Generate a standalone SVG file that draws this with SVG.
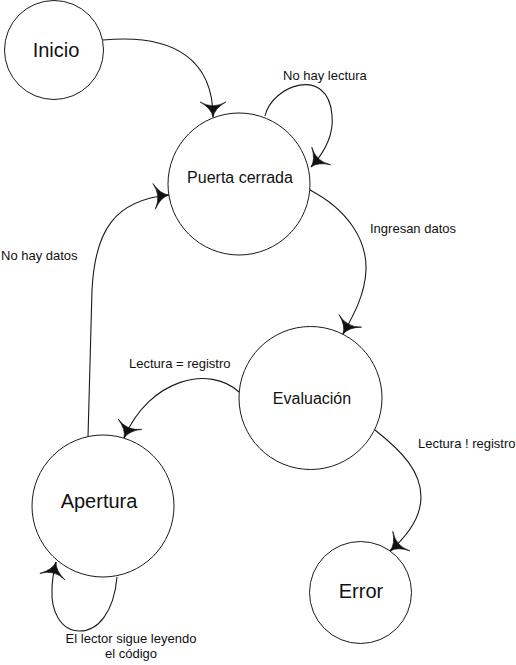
<svg xmlns="http://www.w3.org/2000/svg" width="516" height="665" viewBox="0 0 516 665">
  <style>
    .node circle { fill: #ffffff; stroke: #1a1a1a; stroke-width: 1; }
    .node text { font-family: "Liberation Sans", Arial, sans-serif; fill: #111111; text-anchor: middle; }
    .big { font-size: 20px; }
    .mid { font-size: 16px; }
    .edge { fill: none; stroke: #1a1a1a; stroke-width: 1.1; marker-end: url(#arr); }
    .lbl { font-family: "Liberation Sans", Arial, sans-serif; font-size: 13px; fill: #111111; }
  </style>
  <defs>
    <marker id="arr" markerUnits="userSpaceOnUse" markerWidth="30" markerHeight="30" viewBox="-16 -14 18 28" refX="0" refY="0" orient="auto" overflow="visible">
      <path d="M0,0 Q-8,-1.5 -14,-12 Q-7,0 -14,12 Q-8,1.5 0,0 Z" fill="#111111" stroke="#111111" stroke-width="0.6"/>
    </marker>
  </defs>
  <rect width="516" height="665" fill="#ffffff"/>

  <g id="connectors">
    <path class="edge" d="M103,40 C 178,33 213,63 213,117"/>
    <path class="edge" d="M265,116 C 272,85 328,65 332,115 C 334,135 324,153 311,167"/>
    <path class="edge" d="M310,190 C 348,210 367,240 366,270 C 365,295 353,316 343,334"/>
    <path class="edge" d="M239,392 C 210,365 150,378 124,438"/>
    <path class="edge" d="M375,430 C 403,452 421,472 421,497 C 421,518 406,537 390,551"/>
    <path class="edge" d="M88,437 L92,290 C 95,230 115,200 169,195"/>
    <path class="edge" d="M117,577 C 114,612 98,631 80,631 C 60,631 51,610 52,590 C 52,578 54,570 56,562"/>
    <text class="lbl" x="283" y="80">No hay lectura</text>
    <text class="lbl" x="370" y="233">Ingresan datos</text>
    <text class="lbl" x="1" y="260">No hay datos</text>
    <text class="lbl" x="129" y="368">Lectura = registro</text>
    <text class="lbl" x="418" y="448">Lectura ! registro</text>
    <text class="lbl" x="131" y="643" text-anchor="middle">El lector sigue leyendo</text>
    <text class="lbl" x="131" y="658" text-anchor="middle">el código</text>
  </g>

  <g id="inicio" class="node">
    <circle cx="54" cy="50" r="49.5"/>
    <text class="big" x="56" y="57">Inicio</text>
  </g>
  <g id="puerta-cerrada" class="node">
    <circle cx="239" cy="184" r="71"/>
    <text class="mid" x="240" y="183">Puerta cerrada</text>
  </g>
  <g id="evaluacion" class="node">
    <circle cx="310.5" cy="398" r="71.5"/>
    <text class="mid" x="312" y="404">Evaluación</text>
  </g>
  <g id="apertura" class="node">
    <circle cx="103" cy="506" r="71"/>
    <text class="big" x="99" y="508">Apertura</text>
  </g>
  <g id="error" class="node">
    <circle cx="360.5" cy="592.5" r="51"/>
    <text class="big" x="361" y="598">Error</text>
  </g>
</svg>
